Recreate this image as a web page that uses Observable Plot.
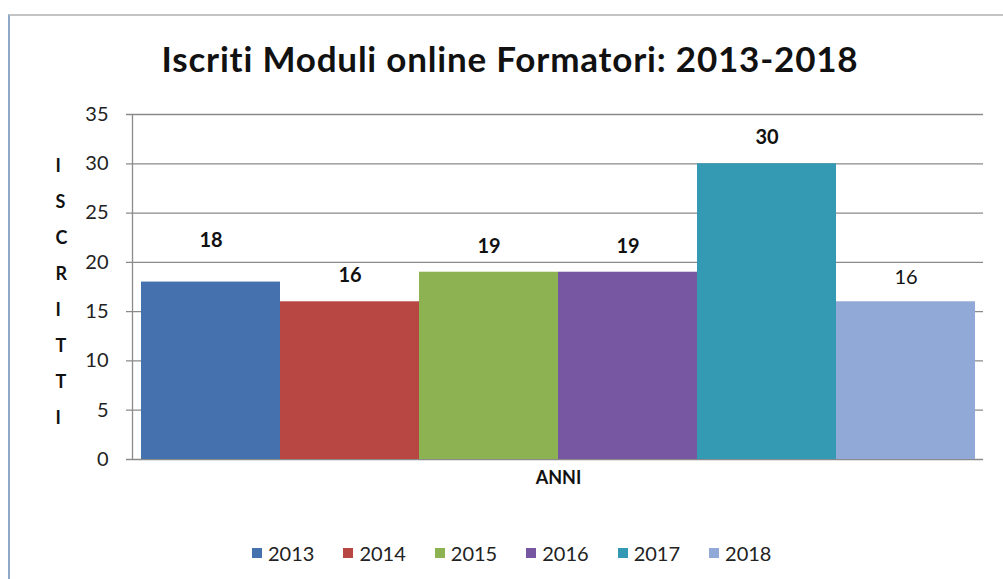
<!DOCTYPE html>
<html>
<head>
<meta charset="utf-8">
<script src="https://cdn.jsdelivr.net/npm/d3@7"></script>
<script src="https://cdn.jsdelivr.net/npm/@observablehq/plot@0.6"></script>
<style>
  html, body { margin: 0; padding: 0; background: #fff; }
  body { width: 1003px; height: 579px; position: relative; overflow: hidden; font-family: Lato, "Open Sans", sans-serif; }
  #frame { position: absolute; left: 8px; top: 14px; width: 1000px; height: 570px;
           border-left: 2px solid #8fa9c9; border-top: 2px solid #c4c4c4; box-sizing: border-box; }
  #title { position: absolute; left: 10px; width: 1000px; top: 37px; text-align: center;
           font: bold 35px Lato, sans-serif; letter-spacing: 0.8px; color: #111; }
  #chart { position: absolute; left: 0; top: 0; }
  #legend { position: absolute; left: 252px; top: 536px; }
  .leg-swatches-wrap .leg-swatch { margin-right: 29px !important; }
  .leg-swatch > svg { margin-right: 6px !important; }
</style>
</head>
<body>
<div id="frame"></div>
<div id="title">Iscriti Moduli online Formatori: 2013-2018</div>
<div id="chart"></div>
<div id="legend"></div>
<script>
const years = ["2013", "2014", "2015", "2016", "2017", "2018"];
const values = [18, 16, 19, 19, 30, 16];
const colors = ["#4571ae", "#b84643", "#8db251", "#7757a2", "#3499b3", "#90a9d6"];
const yTicks = [0, 5, 10, 15, 20, 25, 30, 35];
const yLetters = "ISCRITTI";
const xLabel = "ANNI";

const data = years.map((y, i) => ({year: y, value: values[i]}));

const chart = Plot.plot({
  width: 1003,
  height: 579,
  marginLeft: 133,
  marginRight: 20,
  marginTop: 114,
  marginBottom: 120,
  style: {fontFamily: "Lato, sans-serif", background: "transparent"},
  x: {domain: years, paddingInner: 0, paddingOuter: 0.055, axis: null},
  y: {domain: [0, 35], axis: null},
  color: {domain: years, range: colors},
  marks: [
    Plot.ruleY(yTicks, {stroke: "#8a8a8a", strokeWidth: 1.3, insetLeft: -7}),
    Plot.ruleX([0], {x: () => years[0], dx: -9 - 69.5, stroke: "#8a8a8a", strokeWidth: 1.3, y1: 0, y2: 35}),
    Plot.barY(data, {x: "year", y: "value", fill: "year"}),
    Plot.axisY({ticks: yTicks, tickSize: 0, tickPadding: 25, fontSize: 20, fill: "#222", label: null}),
    Plot.text(data.filter(d => d.year === "2013"), {x: "year", y: "value", text: d => String(d.value), dy: -41, fontSize: 20, fontWeight: "bold", fill: "#111"}),
    Plot.text(data.filter(d => d.year !== "2013" && d.year !== "2018"), {x: "year", y: "value", text: d => String(d.value), dy: -26, fontSize: 20, fontWeight: "bold", fill: "#111"}),
    Plot.text(data.filter(d => d.year === "2018"), {x: "year", y: "value", text: d => String(d.value), dy: -24, fontSize: 20, fill: "#111"}),
    Plot.text([xLabel], {frameAnchor: "bottom", dy: 24, fontSize: 18, fontWeight: "bold", fill: "#111"}),
    Plot.text([yLetters.split("").join("\n")], {frameAnchor: "left", dx: -78, dy: -1, fontSize: 18, fontWeight: "bold", lineHeight: 2.0, fill: "#111"})
  ]
});
document.getElementById("chart").appendChild(chart);

const legend = Plot.legend({
  color: {domain: years, range: colors},
  legend: "swatches",
  swatchSize: 10,
  className: "leg",
  style: {fontSize: "20px", fontFamily: "Lato, sans-serif", color: "#222"}
});
document.getElementById("legend").appendChild(legend);
</script>
</body>
</html>
